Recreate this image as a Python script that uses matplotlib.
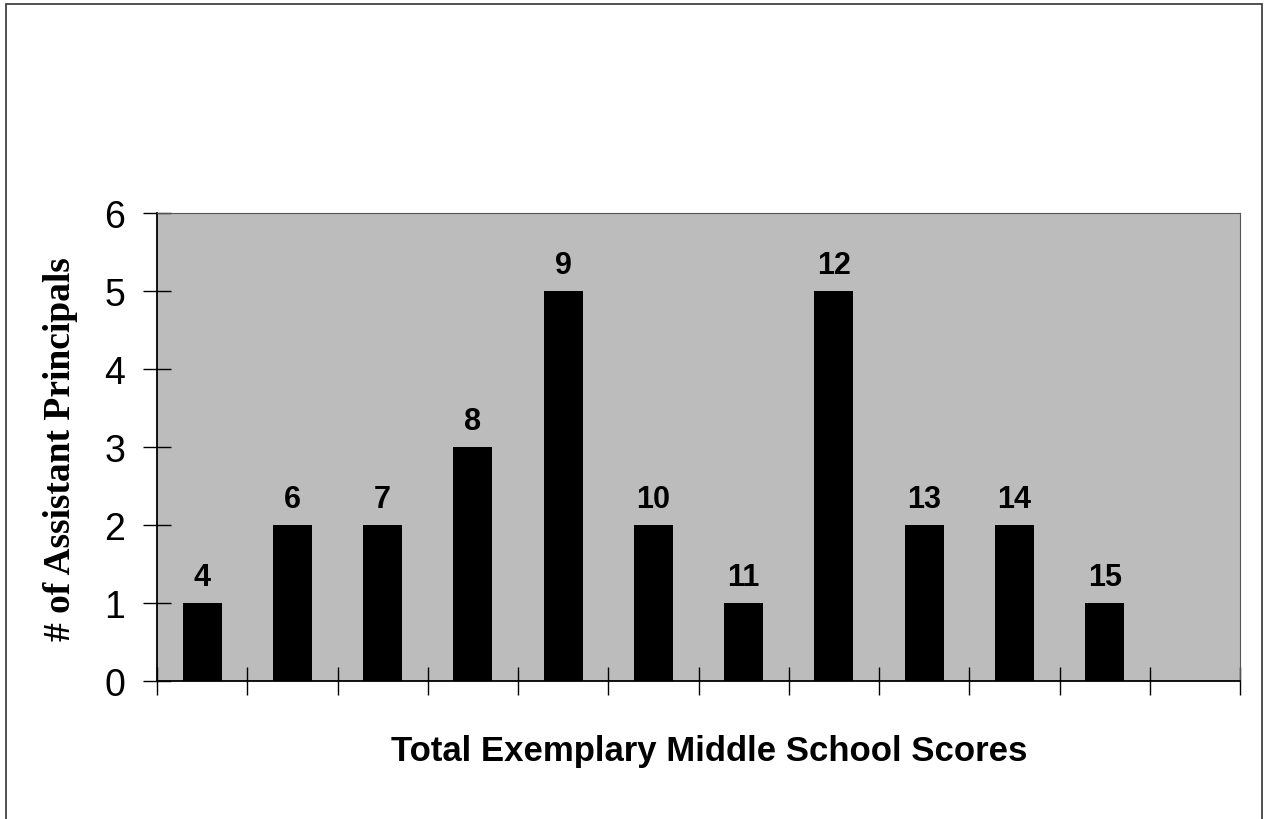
import matplotlib
matplotlib.use("Agg")
import matplotlib.pyplot as plt
from matplotlib.patches import Rectangle

scores = ["4", "6", "7", "8", "9", "10", "11", "12", "13", "14", "15", ""]
counts = [1, 2, 2, 3, 5, 2, 1, 5, 2, 2, 1, 0]
y_ticks = [0, 1, 2, 3, 4, 5, 6]
x_title = "Total Exemplary Middle School Scores"
y_title = "# of Assistant Principals"

W, H = 1269, 820
fig = plt.figure(figsize=(W / 100, H / 100), dpi=100)
fig.patch.set_facecolor("white")

l, r, t, b = 157, 1240, 214, 682
ax = fig.add_axes([l / W, 1 - b / H, (r - l) / W, (b - t) / H])
ax.set_facecolor("#bcbcbc")

pos = list(range(len(scores)))
ax.bar(pos, counts, width=0.43, color="black", zorder=3)
for p, c, s in zip(pos, counts, scores):
    if s:
        ax.annotate(s, (p, c), xytext=(0, 8), textcoords="offset points",
                    ha="center", va="bottom", fontsize=22, fontweight="bold",
                    family="Liberation Sans", color="black", zorder=4)

ax.set_xlim(-0.5, len(scores) - 0.5)
ax.set_ylim(0, 6)
ax.set_yticks(y_ticks)
ax.set_yticklabels([str(v) for v in y_ticks], fontsize=27, family="Liberation Sans")
ax.set_xticks([i - 0.5 for i in range(len(scores) + 1)])
ax.set_xticklabels([])
ax.tick_params(axis="y", direction="inout", length=20, width=1, pad=13)
ax.tick_params(axis="x", direction="inout", length=20, width=1)

ax.spines["left"].set_linewidth(1.3)
ax.spines["bottom"].set_linewidth(1.3)
ax.spines["top"].set_color("#555555")
ax.spines["right"].set_color("#555555")
ax.spines["top"].set_linewidth(0.8)
ax.spines["right"].set_linewidth(0.8)

fig.text(709 / W, 1 - 752 / H, x_title, ha="center", va="center",
         fontsize=25, fontweight="bold", family="Liberation Sans")
fig.text(61 / W, 1 - 449 / H, y_title, ha="center", va="center", rotation=90,
         fontsize=27, fontweight="bold", family="Liberation Serif")

fig.patches.append(Rectangle((6 / W, -0.01), 1256 / W, 1.0 - 5 / H + 0.01,
                             transform=fig.transFigure, fill=False,
                             edgecolor="#333333", linewidth=1.2))

fig.savefig("out.png", dpi=100)
